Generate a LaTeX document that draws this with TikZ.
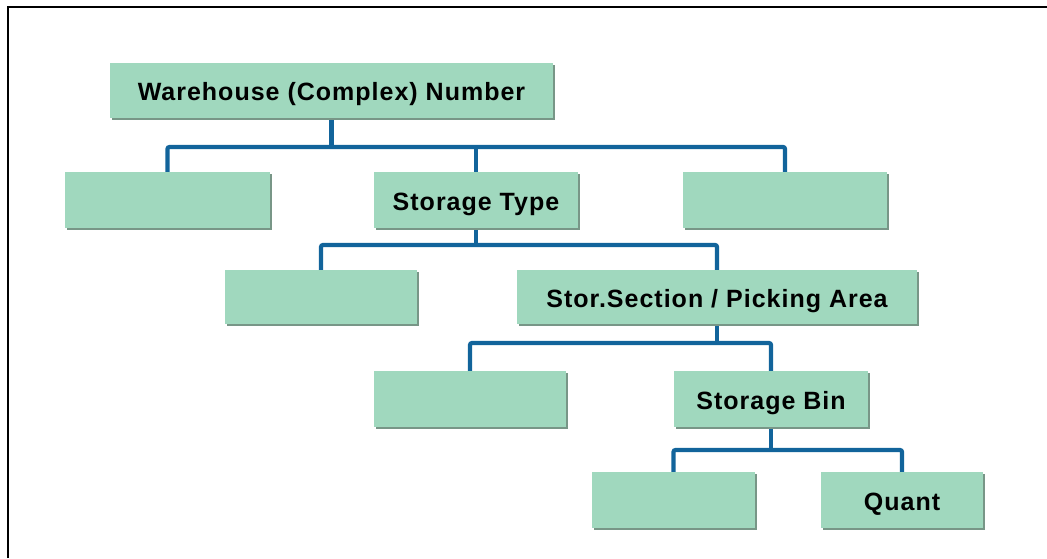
\documentclass[tikz,border=0pt]{standalone}
\usepackage{fontspec}
\setmainfont{Liberation Sans}
\newfontfamily\boxfont[LetterSpace=4]{Liberation Sans}
\usetikzlibrary{shadows}
\definecolor{boxfill}{RGB}{160,216,190}
\definecolor{boxshade}{RGB}{120,150,135}
\definecolor{linkblue}{RGB}{18,100,155}
\begin{document}
\begin{tikzpicture}[x=1pt,y=-1pt,
  box/.style={rectangle, fill=boxfill, inner sep=0pt,
    text height=20pt, text depth=0pt,
    drop shadow={shadow xshift=1.5pt, shadow yshift=-1.8pt, opacity=1, fill=boxshade},
    font=\boxfont\fontsize{25}{29}\selectfont\bfseries},
  link/.style={draw=linkblue, line width=4.2pt, rounded corners=2pt}]
\useasboundingbox (0,0) rectangle (1047,558);
% frame
\draw[line width=2.6pt] (8,558) -- (8,7) -- (1047,7);
% bus levels
\coordinate (bus1) at (0,147);
\coordinate (bus2) at (0,245);
\coordinate (bus3) at (0,343);
\coordinate (bus4) at (0,450);
% connectors (behind the boxes)
\coordinate (a1) at (167.5,172);
\coordinate (a2) at (476,172);
\coordinate (a3) at (785,172);
\coordinate (wb) at (331.5,118);
\draw[link] (a1) -- (a1 |- bus1) -- (a3 |- bus1) -- (a3);
\draw[link] (wb) -- (wb |- bus1);
\draw[link] (a2) -- (a2 |- bus1);
\coordinate (b0) at (476,228);
\coordinate (b1) at (321,270);
\coordinate (b2) at (717,270);
\draw[link] (b1) -- (b1 |- bus2) -- (b2 |- bus2) -- (b2);
\draw[link] (b0) -- (b0 |- bus2);
\coordinate (c0) at (717,324);
\coordinate (c1) at (470,371);
\coordinate (c2) at (771,371);
\draw[link] (c1) -- (c1 |- bus3) -- (c2 |- bus3) -- (c2);
\draw[link] (c0) -- (c0 |- bus3);
\coordinate (d0) at (771,427);
\coordinate (d1) at (673.5,472);
\coordinate (d2) at (902,472);
\draw[link] (d1) -- (d1 |- bus4) -- (d2 |- bus4) -- (d2);
\draw[link] (d0) -- (d0 |- bus4);
% boxes
\node[box, minimum width=443pt, minimum height=55pt] (wh) at (331.5,90.5) {Warehouse (Complex) Number};
\node[box, minimum width=205pt, minimum height=56pt] (l2a) at (167.5,200) {};
\node[box, minimum width=204pt, minimum height=56pt] (st) at (476,200) {Storage Type};
\node[box, minimum width=204pt, minimum height=56pt] (l2c) at (785,200) {};
\node[box, minimum width=192pt, minimum height=54pt] (l3a) at (321,297) {};
\node[box, minimum width=400pt, minimum height=54pt] (ss) at (717,297) {Stor.Section / Picking Area};
\node[box, minimum width=192pt, minimum height=56pt] (l4a) at (470,399) {};
\node[box, minimum width=194pt, minimum height=56pt] (sb) at (771,399) {Storage Bin};
\node[box, minimum width=163pt, minimum height=56pt] (l5a) at (673.5,500) {};
\node[box, minimum width=162pt, minimum height=56pt] (qu) at (902,500) {Quant};
\end{tikzpicture}
\end{document}
